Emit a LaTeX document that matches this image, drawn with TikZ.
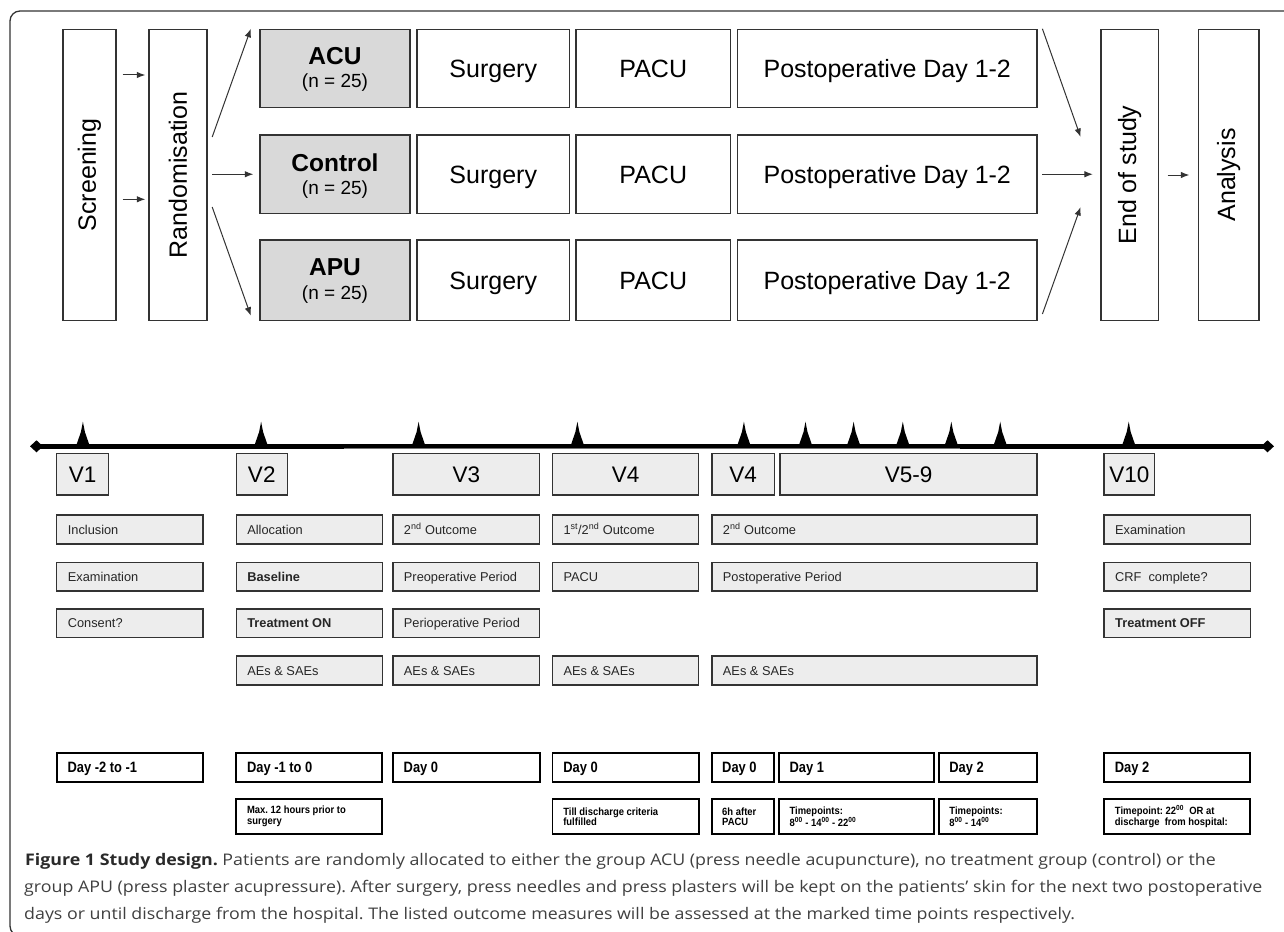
\documentclass[tikz,border=0pt]{standalone}
\usepackage{graphicx}
\usepackage{fontspec}
\setmainfont{Liberation Sans}
\newfontfamily\narrowf[FakeStretch=0.9]{Liberation Sans}
\newfontfamily\narrowd[FakeStretch=0.86]{Liberation Sans}
\newfontfamily\capf{Open Sans}
\usetikzlibrary{arrows.meta,calc}
\definecolor{ln}{HTML}{333333}
\definecolor{grpfill}{HTML}{D9D9D9}
\definecolor{vfill}{HTML}{EDEDED}
\definecolor{captxt}{HTML}{404040}
\definecolor{capbold}{HTML}{2A2A2A}
\newsavebox\capboxa
\newsavebox\capboxb
\newsavebox\capboxc
\newcommand\bx[7]{%
  \pgfmathsetmacro\bxw{#5-#3}\pgfmathsetmacro\bxh{#6-#4}%
  \pgfmathsetmacro\bxx{(#3+#5)/2}\pgfmathsetmacro\bxy{(#4+#6)/2}%
  \node[#1, minimum width=\bxw pt, minimum height=\bxh pt] (#2) at (\bxx,\bxy) {#7};}
\begin{document}
\frenchspacing
\sbox\capboxa{\capf\fontsize{16}{20}\selectfont{\color{capbold}\textbf{Figure 1 Study design.}} \color{captxt}Patients are randomly allocated to either the group ACU (press needle acupuncture), no treatment group (control) or the}%
\sbox\capboxb{\capf\fontsize{16}{20}\selectfont\color{captxt}group APU (press plaster acupressure). After surgery, press needles and press plasters will be kept on the patients’ skin for the next two postoperative}%
\sbox\capboxc{\capf\fontsize{16}{20}\selectfont\color{captxt}days or until discharge from the hospital. The listed outcome measures will be assessed at the marked time points respectively.}%
\pgfmathsetmacro\capsc{1238/\the\wd\capboxb}%
\begin{tikzpicture}[x=1pt,y=-1pt,
  topbox/.style={draw=ln, line width=1.4pt, inner sep=0pt, text height=18pt, text depth=0pt, font=\fontsize{25}{28}\selectfont},
  grpbox/.style={draw=ln, line width=1.4pt, inner sep=0pt, fill=grpfill},
  rtext/.style={rotate=90, inner sep=0pt, font=\fontsize{25}{28}\selectfont},
  vbox/.style={draw=ln, line width=1.3pt, fill=vfill, inner sep=0pt, text height=16.2pt, text depth=0pt, font=\fontsize{22.5}{25}\selectfont},
  sbox/.style={draw=ln, line width=1.3pt, fill=vfill, inner sep=0pt},
  stext/.style={anchor=west, inner sep=0pt, text height=9.2pt, text depth=0pt, font=\fontsize{12.8}{14}\selectfont, text=black!85},
  dbox/.style={draw=black, line width=1.8pt, fill=white, inner sep=0pt},
  dtext/.style={anchor=west, inner sep=0pt, text height=10.8pt, text depth=0pt, font=\narrowd\bfseries\fontsize{15}{17}\selectfont},
  ntext/.style={anchor=west, inner sep=0pt, align=left, font=\narrowf\bfseries\fontsize{10.5}{10.5}\selectfont},
  arr/.style={draw=ln, line width=1pt, -{Latex[length=8.5pt,width=6.5pt]}},
  tick/.style={fill=black},
]
\path[use as bounding box] (0,0) rectangle (1284,931);
\fill[white] (0,0) rectangle (1284,931);
% frame
\begin{scope}
\clip (0,0) rectangle (1284,931);
\draw[draw=ln, line width=1.3pt, rounded corners=10pt] (10,11) rectangle (1330,936);
\end{scope}
% ---------------- top flow ----------------
\bx{topbox}{scr}{63}{29.5}{116}{320.5}{}
\node[rtext] (scrt) at (scr.center) {Screening};
\bx{topbox}{rnd}{149}{29.5}{207}{320.5}{}
\node[rtext] (rndt) at (rnd.center) {Randomisation};
% groups
\bx{grpbox}{acu}{260}{29.5}{410}{107.5}{}
\node[inner sep=0pt, font=\bfseries\fontsize{24.5}{27}\selectfont] (acut) at (335,56) {ACU};
\node[inner sep=0pt, font=\fontsize{19}{21}\selectfont] (acun) at (335,83) {(n = 25)};
\bx{grpbox}{ctl}{260}{135}{410}{213.5}{}
\node[inner sep=0pt, font=\bfseries\fontsize{24.5}{27}\selectfont] (ctlt) at (335,163) {Control};
\node[inner sep=0pt, font=\fontsize{19}{21}\selectfont] (ctln) at (335,189.5) {(n = 25)};
\bx{grpbox}{apu}{260}{240}{410}{320.5}{}
\node[inner sep=0pt, font=\bfseries\fontsize{24.5}{27}\selectfont] (aput) at (335,267) {APU};
\node[inner sep=0pt, font=\fontsize{19}{21}\selectfont] (apun) at (335,295) {(n = 25)};
% surgery / pacu / postop
\bx{topbox}{s1}{417}{29.5}{569.5}{107.5}{Surgery}
\bx{topbox}{s2}{417}{135}{569.5}{213.5}{Surgery}
\bx{topbox}{s3}{417}{240}{569.5}{320.5}{Surgery}
\bx{topbox}{pa1}{576}{29.5}{730.5}{107.5}{PACU}
\bx{topbox}{pa2}{576}{135}{730.5}{213.5}{PACU}
\bx{topbox}{pa3}{576}{240}{730.5}{320.5}{PACU}
\bx{topbox}{po1}{737.5}{29.5}{1037}{107.5}{Postoperative Day 1-2}
\bx{topbox}{po2}{737.5}{135}{1037}{213.5}{Postoperative Day 1-2}
\bx{topbox}{po3}{737.5}{240}{1037}{320.5}{Postoperative Day 1-2}
\bx{topbox}{eos}{1101}{29.5}{1158.5}{320.5}{}
\node[rtext] (eost) at (eos.center) {End of study};
\bx{topbox}{ana}{1198.5}{29.5}{1259}{320.5}{}
\node[rtext] (anat) at (ana.center) {Analysis};
% arrows
\draw[arr] ($(scr.east)+(6,-100)$) -- ($(rnd.west)+(-3,-100)$);
\draw[arr] ($(scr.east)+(6,24.3)$) -- ($(rnd.west)+(-3,24.3)$);
\draw[arr] ($(rnd.east)+(4.5,-38)$) -- ($(acu.north west)+(-8.5,0)$);
\draw[arr, shorten <=4.5pt, shorten >=6pt] (rnd.east |- ctl.west) -- (ctl.west);
\draw[arr] ($(rnd.east)+(4.5,32)$) -- ($(apu.south west)+(-8.5,-5.5)$);
\draw[arr] ($(po1.north east)+(4.7,0)$) -- ($(eos.west)+(-19.7,-38)$);
\draw[arr, shorten <=4.7pt, shorten >=7.4pt] (po2.east) -- (eos.west |- po2.east);
\draw[arr] ($(po3.south east)+(4.7,-7.2)$) -- ($(eos.west)+(-19.7,32)$);
\draw[arr, shorten <=8.5pt, shorten >=8.5pt] (eos.east) -- (ana.west);
% ---------------- timeline ----------------
\draw[line width=4.5pt, black] (36.5,446.3) -- (1267.5,446.3);
\draw[line width=1.2pt, black!55] (344,448.6) -- (960,448.6);
\fill (30,446.3) -- (36.5,440.3) -- (43,446.3) -- (36.5,452.3) -- cycle;
\fill (1261,446.3) -- (1267.5,440.3) -- (1274,446.3) -- (1267.5,452.3) -- cycle;
\foreach \tx in {82.9,261.1,418.6,577.4,743.9,805.5,853.6,902.8,951.3,1000.2,1128.7}
  \fill[tick] (\tx-6.5,445) -- (\tx-2,432) -- (\tx,421.7) -- (\tx+2,432) -- (\tx+6.5,445) -- cycle;
% V boxes
\bx{vbox}{v1}{56.8}{453.3}{108.6}{495}{V1}
\bx{vbox}{v2}{236.3}{453.3}{287.2}{495}{V2}
\bx{vbox}{v3}{392.9}{453.3}{539.7}{495}{V3}
\bx{vbox}{v4}{552.5}{453.3}{698.7}{495}{V4}
\bx{vbox}{v4b}{711.9}{453.3}{774.3}{495}{V4}
\bx{vbox}{v59}{780}{453.3}{1037.1}{495}{V5-9}
\bx{vbox}{v10}{1104.1}{453.3}{1154.6}{495}{V10}
% row 1
\bx{sbox}{a1}{56.8}{515}{203.1}{544}{}
\node[stext] (a1t) at ($(a1.west)+(11.5,0)$) {Inclusion};
\bx{sbox}{a2}{236.3}{515}{382.2}{544}{}
\node[stext] (a2t) at ($(a2.west)+(11.5,0)$) {Allocation};
\bx{sbox}{a3}{392.9}{515}{539.7}{544}{}
\node[stext] (a3t) at ($(a3.west)+(11.5,0)$) {2\textsuperscript{nd} Outcome};
\bx{sbox}{a4}{552.5}{515}{698.7}{544}{}
\node[stext] (a4t) at ($(a4.west)+(11.5,0)$) {1\textsuperscript{st}/2\textsuperscript{nd} Outcome};
\bx{sbox}{a5}{711.9}{515}{1037.1}{544}{}
\node[stext] (a5t) at ($(a5.west)+(11.5,0)$) {2\textsuperscript{nd} Outcome};
\bx{sbox}{a6}{1104.1}{515}{1250.3}{544}{}
\node[stext] (a6t) at ($(a6.west)+(11.5,0)$) {Examination};
% row 2
\bx{sbox}{b1}{56.8}{562.3}{203.1}{591}{}
\node[stext] (b1t) at ($(b1.west)+(11.5,0)$) {Examination};
\bx{sbox}{b2}{236.3}{562.3}{382.2}{591}{}
\node[stext] (b2t) at ($(b2.west)+(11.5,0)$) {\textbf{Baseline}};
\bx{sbox}{b3}{392.9}{562.3}{539.7}{591}{}
\node[stext] (b3t) at ($(b3.west)+(11.5,0)$) {Preoperative Period};
\bx{sbox}{b4}{552.5}{562.3}{698.7}{591}{}
\node[stext] (b4t) at ($(b4.west)+(11.5,0)$) {PACU};
\bx{sbox}{b5}{711.9}{562.3}{1037.1}{591}{}
\node[stext] (b5t) at ($(b5.west)+(11.5,0)$) {Postoperative Period};
\bx{sbox}{b6}{1104.1}{562.3}{1250.3}{591}{}
\node[stext] (b6t) at ($(b6.west)+(11.5,0)$) {CRF\ \ complete?};
% row 3
\bx{sbox}{c1}{56.8}{609}{203.1}{637.7}{}
\node[stext] (c1t) at ($(c1.west)+(11.5,0)$) {Consent?};
\bx{sbox}{c2}{236.3}{609}{382.2}{637.7}{}
\node[stext] (c2t) at ($(c2.west)+(11.5,0)$) {\textbf{Treatment ON}};
\bx{sbox}{c3}{392.9}{609}{539.7}{637.7}{}
\node[stext] (c3t) at ($(c3.west)+(11.5,0)$) {Perioperative Period};
\bx{sbox}{c6}{1104.1}{609}{1250.3}{637.7}{}
\node[stext] (c6t) at ($(c6.west)+(11.5,0)$) {\textbf{Treatment OFF}};
% row 4
\bx{sbox}{e2}{236.3}{656}{382.2}{685}{}
\node[stext] (e2t) at ($(e2.west)+(11.5,0)$) {AEs \& SAEs};
\bx{sbox}{e3}{392.9}{656}{539.7}{685}{}
\node[stext] (e3t) at ($(e3.west)+(11.5,0)$) {AEs \& SAEs};
\bx{sbox}{e4}{552.5}{656}{698.7}{685}{}
\node[stext] (e4t) at ($(e4.west)+(11.5,0)$) {AEs \& SAEs};
\bx{sbox}{e5}{711.9}{656}{1037.1}{685}{}
\node[stext] (e5t) at ($(e5.west)+(11.5,0)$) {AEs \& SAEs};
% day row
\bx{dbox}{d1}{56.8}{753.3}{203.1}{781.7}{}
\node[dtext] (d1t) at ($(d1.west)+(11.5,0)$) {Day -2 to -1};
\bx{dbox}{d2}{236.3}{753.3}{382.2}{781.7}{}
\node[dtext] (d2t) at ($(d2.west)+(11.5,0)$) {Day -1 to 0};
\bx{dbox}{d3}{392.9}{753.3}{539.7}{781.7}{}
\node[dtext] (d3t) at ($(d3.west)+(11.5,0)$) {Day 0};
\bx{dbox}{d4}{552.5}{753.3}{698.7}{781.7}{}
\node[dtext] (d4t) at ($(d4.west)+(11.5,0)$) {Day 0};
\bx{dbox}{d5}{711.9}{753.3}{774.3}{781.7}{}
\node[dtext] (d5t) at ($(d5.west)+(11,0)$) {Day 0};
\bx{dbox}{d6}{778.8}{753.3}{933.7}{781.7}{}
\node[dtext] (d6t) at ($(d6.west)+(11.5,0)$) {Day 1};
\bx{dbox}{d7}{938.6}{753.3}{1037.1}{781.7}{}
\node[dtext] (d7t) at ($(d7.west)+(11.5,0)$) {Day 2};
\bx{dbox}{d8}{1104.1}{753.3}{1250.3}{781.7}{}
\node[dtext] (d8t) at ($(d8.west)+(11.5,0)$) {Day 2};
% notes row
\bx{dbox}{n2}{236.3}{799}{382.2}{834}{}
\node[ntext] (n2t) at ($(n2.west)+(11.5,0)$) {Max. 12 hours prior to\\surgery};
\bx{dbox}{n4}{552.5}{799}{698.7}{834}{}
\node[ntext] (n4t) at ($(n4.west)+(11.5,0)$) {Till discharge criteria\\fulfilled};
\bx{dbox}{n5}{711.9}{799}{774.3}{834}{}
\node[ntext] (n5t) at ($(n5.west)+(11,0)$) {6h after\\PACU};
\bx{dbox}{n6}{778.8}{799}{933.7}{834}{}
\node[ntext] (n6t) at ($(n6.west)+(11.5,0)$) {Timepoints:\\8\textsuperscript{00} - 14\textsuperscript{00} - 22\textsuperscript{00}};
\bx{dbox}{n7}{938.6}{799}{1037.1}{834}{}
\node[ntext] (n7t) at ($(n7.west)+(11.5,0)$) {Timepoints:\\8\textsuperscript{00} - 14\textsuperscript{00}};
\bx{dbox}{n8}{1104.1}{799}{1250.3}{834}{}
\node[ntext] (n8t) at ($(n8.west)+(11.5,0)$) {Timepoint: 22\textsuperscript{00}\ \ OR at\\discharge\ \ from hospital:};
% ---------------- caption ----------------
\node[anchor=base west, inner sep=0pt] (cap1) at (25,865) {\scalebox{\capsc}[1]{\usebox\capboxa}};
\node[anchor=base west, inner sep=0pt] (cap2) at (24,892) {\scalebox{\capsc}[1]{\usebox\capboxb}};
\node[anchor=base west, inner sep=0pt] (cap3) at (24,919) {\scalebox{\capsc}[1]{\usebox\capboxc}};
\end{tikzpicture}
\end{document}
